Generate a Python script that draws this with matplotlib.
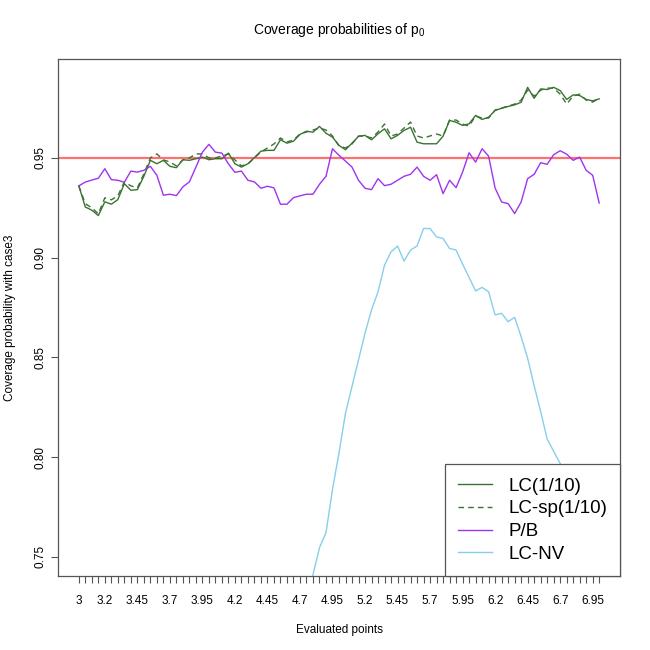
import numpy as np
import matplotlib
matplotlib.use("Agg")
import matplotlib.pyplot as plt

plt.rcParams['font.family'] = ['Liberation Sans', 'DejaVu Sans']

# evaluated points 3, 3.05, ..., 7 (81 points)
eval_points = np.round(np.arange(3, 7.0001, 0.05), 2)
tick_pos = [0, 4, 9, 14, 19, 24, 29, 34, 39, 44, 49, 54, 59, 64, 69, 74, 79]
tick_text = ["3", "3.2", "3.45", "3.7", "3.95", "4.2", "4.45", "4.7", "4.95",
             "5.2", "5.45", "5.7", "5.95", "6.2", "6.45", "6.7", "6.95"]

lc = [0.936, 0.9254, 0.9238, 0.9211, 0.928, 0.9268, 0.9291, 0.9371, 0.9338, 0.9341,
      0.9408, 0.9488, 0.9471, 0.9488, 0.9458, 0.9451, 0.9491, 0.9488, 0.9496, 0.9504,
      0.9491, 0.9496, 0.9496, 0.9524, 0.9471, 0.9454, 0.9471, 0.9502, 0.9534, 0.9538,
      0.9538, 0.9591, 0.9574, 0.9584, 0.9618, 0.9634, 0.9629, 0.9658, 0.9624, 0.9604,
      0.9563, 0.9541, 0.9574, 0.9608, 0.9613, 0.9591, 0.9621, 0.9646, 0.9596, 0.9613,
      0.9638, 0.9654, 0.9579, 0.9571, 0.9571, 0.9571, 0.9609, 0.9688, 0.9679, 0.9663,
      0.9671, 0.9713, 0.9693, 0.9704, 0.9738, 0.9749, 0.9758, 0.9766, 0.9779, 0.9854,
      0.9799, 0.9846, 0.9843, 0.9854, 0.9838, 0.9793, 0.9816, 0.9813, 0.9793, 0.9786,
      0.9796]

lc_sp = [0.936, 0.927, 0.925, 0.922, 0.930, 0.929, 0.931, 0.938, 0.936, 0.935,
         0.942, 0.950, 0.952, 0.949, 0.948, 0.946, 0.949, 0.950, 0.952, 0.952,
         0.950, 0.950, 0.951, 0.952, 0.949, 0.946, 0.947, 0.950, 0.953, 0.955,
         0.957, 0.960, 0.958, 0.959, 0.962, 0.963, 0.964, 0.965, 0.964, 0.961,
         0.956, 0.955, 0.957, 0.961, 0.961, 0.960, 0.963, 0.967, 0.961, 0.962,
         0.965, 0.968, 0.961, 0.960, 0.961, 0.962, 0.961, 0.969, 0.969, 0.967,
         0.966, 0.971, 0.970, 0.970, 0.974, 0.975, 0.976, 0.977, 0.979, 0.984,
         0.981, 0.984, 0.985, 0.985, 0.982, 0.977, 0.981, 0.982, 0.979, 0.978,
         0.980]

pb = [0.936, 0.9379, 0.9389, 0.9398, 0.9446, 0.9391, 0.9388, 0.9378, 0.9434, 0.9429,
      0.9438, 0.9458, 0.9413, 0.9313, 0.9318, 0.9311, 0.9355, 0.938, 0.9454, 0.9529,
      0.9568, 0.9529, 0.9524, 0.947, 0.9428, 0.9434, 0.9388, 0.938, 0.9348, 0.9358,
      0.935, 0.9268, 0.9268, 0.9301, 0.931, 0.9318, 0.9318, 0.9368, 0.9408, 0.9546,
      0.9513, 0.9484, 0.9454, 0.9388, 0.9348, 0.9341, 0.9396, 0.9361, 0.9368, 0.9388,
      0.9408, 0.9418, 0.9454, 0.9408, 0.9388, 0.9416, 0.9321, 0.9388, 0.9351, 0.9429,
      0.9526, 0.9479, 0.9546, 0.9509, 0.9349, 0.9279, 0.9271, 0.9221, 0.9279, 0.9396,
      0.9418, 0.9476, 0.9468, 0.9516, 0.9536, 0.9519, 0.9488, 0.9504, 0.9438, 0.9413,
      0.9274]

# first points fall below the plotted range, last ones are hidden by the legend
lc_nv = [0.47, 0.48, 0.49, 0.50, 0.51, 0.52, 0.53, 0.54, 0.55, 0.56,
         0.57, 0.58, 0.59, 0.60, 0.61, 0.62, 0.63, 0.635, 0.64, 0.645,
         0.65, 0.655, 0.66, 0.665, 0.67, 0.675, 0.68, 0.685, 0.69, 0.695,
         0.70, 0.705, 0.71, 0.715, 0.72, 0.724, 0.741, 0.7546, 0.7621, 0.7838,
         0.8021, 0.8221, 0.8354, 0.8488, 0.8621, 0.8738, 0.8829, 0.8963, 0.9029, 0.9058,
         0.8983, 0.9038, 0.9059, 0.9146, 0.9146, 0.9104, 0.9096, 0.9046, 0.9038, 0.8968,
         0.8901, 0.8833, 0.8851, 0.8829, 0.8713, 0.8721, 0.8679, 0.8701, 0.8604, 0.8496,
         0.8358, 0.8229, 0.8091, 0.8029, 0.7968, 0.790, 0.782, 0.775, 0.768, 0.760,
         0.752]

x = np.arange(len(eval_points))

fig = plt.figure(figsize=(6.5, 6.5), dpi=100)
ax = fig.add_axes([58 / 650, 1 - 576 / 650, 562 / 650, 517 / 650])

ax.axhline(0.95, color='#ff7070', lw=1.6, zorder=1)
ax.plot(x, lc, color='#3b7233', lw=1.0, label='LC(1/10)')
ax.plot(x, lc_sp, color='#3b7233', lw=1.0, ls=(0, (4, 3)), label='LC-sp(1/10)')
ax.plot(x, pb, color='#a033f0', lw=1.0, label='P/B')
ax.plot(x, lc_nv, color='#87ceeb', lw=1.0, label='LC-NV')

ax.set_xlim(-3.2, 83.2)
ax.set_ylim(0.7404, 0.9996)

ax.set_xticks(x)
labels = [''] * len(x)
for p, t in zip(tick_pos, tick_text):
    labels[p] = t
ax.set_xticklabels(labels)
ax.set_yticks([0.75, 0.80, 0.85, 0.90, 0.95])
ax.set_yticklabels(["0.75", "0.80", "0.85", "0.90", "0.95"], rotation=90, va='center')
ax.tick_params(axis='both', length=5, width=0.8, color='#555555', labelsize=8.5)
ax.tick_params(axis='x', pad=9)
ax.tick_params(axis='y', pad=3)

for s in ax.spines.values():
    s.set_color('#555555')
    s.set_linewidth(0.9)

ax.set_title('Coverage probabilities of $\\mathregular{p_0}$', fontsize=10, pad=18)
ax.set_xlabel('Evaluated points', fontsize=8.5)
ax.set_ylabel('Coverage probability with case3', fontsize=8.5)
ax.xaxis.set_label_coords(0.5, -0.092)
ax.yaxis.set_label_coords(-0.075, 0.5)

leg = ax.legend(loc='lower right', fontsize=13.5, frameon=True, fancybox=False,
                edgecolor='#555555', framealpha=1, borderaxespad=0,
                handlelength=1.8, handletextpad=0.85, labelspacing=0.3,
                borderpad=0.7)
leg.get_frame().set_linewidth(0.9)
for h in leg.get_lines():
    h.set_linewidth(1.0)

fig.savefig('out.png', dpi=100)
